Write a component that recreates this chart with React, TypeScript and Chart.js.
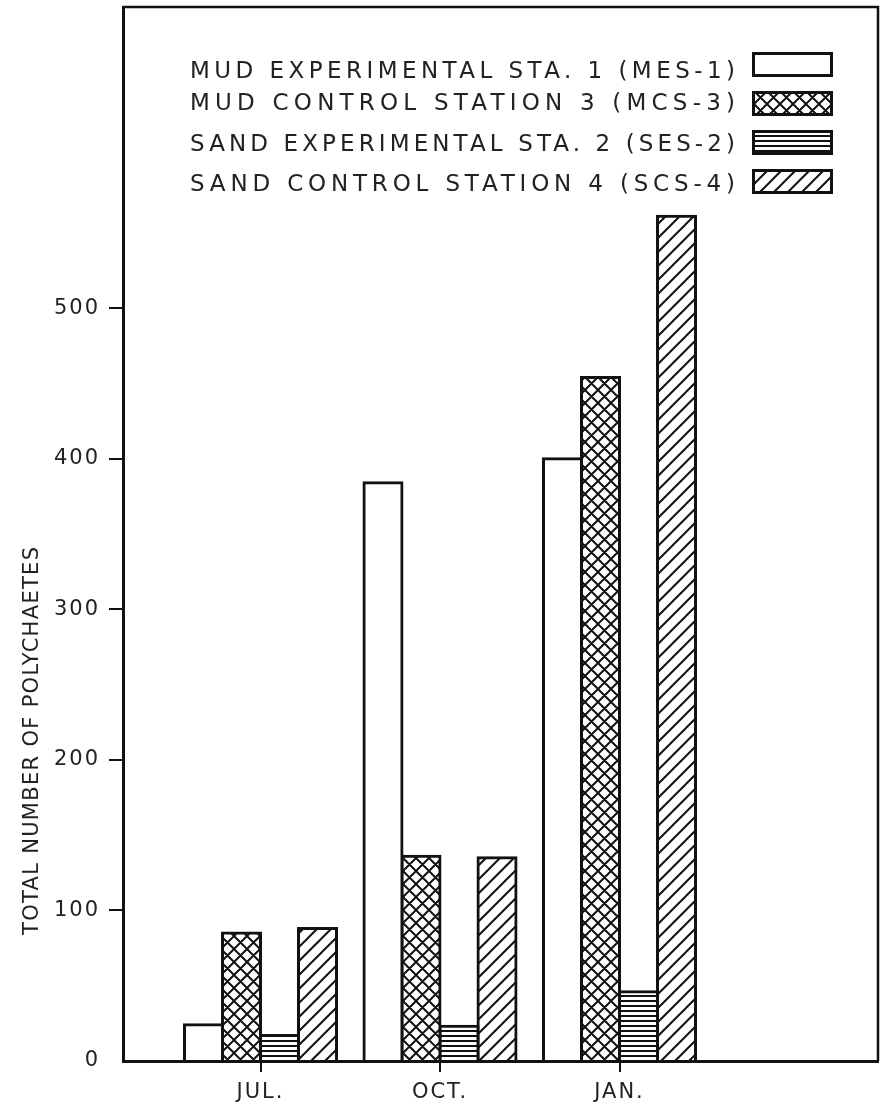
import React, { useEffect, useRef } from 'react';
import { Chart, registerables } from 'chart.js';

Chart.register(...registerables);

// ---- data ----
const MONTHS = ['JUL.', 'OCT.', 'JAN.'];
const MONTH_POS = [0, 1, 2];
const MES1 = [24, 384, 400];
const MCS3 = [85, 136, 454];
const SES2 = [17, 23, 46];
const SCS4 = [88, 135, 561];
const Y_TICKS = [0, 100, 200, 300, 400, 500];
const SERIES_LABELS = [
  'MUD EXPERIMENTAL STA. 1 (MES-1)',
  'MUD CONTROL STATION 3 (MCS-3)',
  'SAND EXPERIMENTAL STA. 2 (SES-2)',
  'SAND CONTROL STATION 4 (SCS-4)',
];
const Y_TITLE = 'TOTAL NUMBER OF POLYCHAETES';

const FONT = '"DejaVu Sans", sans-serif';
const INK = '#111';
const TEXT = '#222';

function makePattern(kind: string): CanvasPattern | string {
  if (kind === 'none') return '#ffffff';
  const c = document.createElement('canvas');
  const ctx = c.getContext('2d') as CanvasRenderingContext2D;
  if (kind === 'horiz') {
    c.width = 8; c.height = 5;
    ctx.fillStyle = '#fff'; ctx.fillRect(0, 0, 8, 5);
    ctx.fillStyle = INK; ctx.fillRect(0, 0, 8, 2);
  } else {
    const s = kind === 'cross' ? 13 : 14;
    c.width = s; c.height = s;
    ctx.fillStyle = '#fff'; ctx.fillRect(0, 0, s, s);
    ctx.strokeStyle = INK; ctx.lineWidth = 2;
    ctx.beginPath();
    ctx.moveTo(-2, s + 2); ctx.lineTo(s + 2, -2);
    ctx.moveTo(-2, 2); ctx.lineTo(2, -2);
    ctx.moveTo(s - 2, s + 2); ctx.lineTo(s + 2, s - 2);
    if (kind === 'cross') {
      ctx.moveTo(-2, -2); ctx.lineTo(s + 2, s + 2);
      ctx.moveTo(s - 2, -2); ctx.lineTo(s + 2, 2);
      ctx.moveTo(-2, s - 2); ctx.lineTo(2, s + 2);
    }
    ctx.stroke();
  }
  return ctx.createPattern(c, 'repeat') as CanvasPattern;
}

function fitText(ctx: any, text: string, x: number, y: number, width: number) {
  ctx.letterSpacing = '0px';
  const w = ctx.measureText(text).width;
  const sp = (width - w) / Math.max(1, text.length - 1);
  ctx.letterSpacing = sp + 'px';
  ctx.fillText(text, x, y);
  ctx.letterSpacing = '0px';
}

const framePlugin = {
  id: 'figureFrame',
  beforeDraw(chart: any) {
    chart.ctx.letterSpacing = '2px';
  },
  afterDraw(chart: any) {
    const ctx = chart.ctx;
    const a = chart.chartArea;
    ctx.save();
    ctx.letterSpacing = '0px';
    // frame top & right
    ctx.strokeStyle = INK;
    ctx.lineWidth = 2.5;
    ctx.beginPath();
    ctx.moveTo(a.left, a.top);
    ctx.lineTo(a.right, a.top);
    ctx.lineTo(a.right, a.bottom);
    ctx.stroke();

    // legend (text left, swatch right)
    const boxTops = [52, 91, 130, 169];
    const textMid = [70, 102, 143, 183];
    const size = 23;
    ctx.font = `${size}px ${FONT}`;
    ctx.fillStyle = TEXT;
    ctx.textAlign = 'left';
    ctx.textBaseline = 'alphabetic';
    chart.data.datasets.forEach((ds: any, i: number) => {
      fitText(ctx, ds.label, 190, textMid[i] + size * 0.729 / 2, 545);
      ctx.fillStyle = ds.backgroundColor;
      ctx.fillRect(752, boxTops[i], 81, 25);
      ctx.strokeStyle = INK;
      ctx.lineWidth = 3;
      ctx.strokeRect(753.5, boxTops[i] + 1.5, 78, 22);
      ctx.fillStyle = TEXT;
    });

    // y axis title
    const ts = 21;
    ctx.font = `${ts}px ${FONT}`;
    ctx.translate(30, 741);
    ctx.rotate(-Math.PI / 2);
    fitText(ctx, Y_TITLE, -194, ts * 0.729 / 2, 388);
    ctx.restore();
  },
};

export default function App() {
  const ref = useRef<HTMLCanvasElement>(null);
  useEffect(() => {
    const fills = [makePattern('none'), makePattern('cross'), makePattern('horiz'), makePattern('diag')];
    const series = [MES1, MCS3, SES2, SCS4];
    const chart = new Chart(ref.current as HTMLCanvasElement, {
      type: 'bar',
      data: {
        datasets: series.map((vals, k) => ({
          label: SERIES_LABELS[k],
          data: vals.map((v, i) => ({ x: MONTH_POS[i], y: v })),
          backgroundColor: fills[k] as any,
          borderColor: INK,
          borderWidth: 3,
          borderSkipped: 'start',
          inflateAmount: 1.5,
          categoryPercentage: 0.847,
          barPercentage: 1,
        })),
      },
      options: {
        animation: false,
        responsive: false,
        devicePixelRatio: 1,
        layout: { padding: { top: 7, right: 3, left: 0, bottom: 0 } },
        plugins: {
          legend: { display: false },
          tooltip: { enabled: false },
          title: { display: false },
        },
        scales: {
          x: {
            type: 'linear',
            min: -0.766,
            max: 3.44,
            offset: false,
            afterBuildTicks: (s: any) => { s.ticks = MONTH_POS.map((v) => ({ value: v })); },
            afterFit: (s: any) => { s.height = 45; s.paddingLeft = 0; s.paddingRight = 0; },
            grid: { offset: false, drawOnChartArea: false, drawTicks: true, tickLength: 11, lineWidth: 2, color: INK },
            border: { display: true, width: 3, color: INK, z: 1 },
            ticks: {
              font: { family: FONT, size: 21 },
              color: TEXT,
              padding: 8,
              maxRotation: 0,
              autoSkip: false,
              callback: (v: any) => { const i = MONTH_POS.indexOf(Number(v)); return i >= 0 ? MONTHS[i] : ''; },
            },
          },
          y: {
            type: 'linear',
            min: 0,
            max: 700,
            afterBuildTicks: (s: any) => { s.ticks = Y_TICKS.map((v) => ({ value: v })); },
            afterFit: (s: any) => { s.width = 123; s.paddingTop = 0; s.paddingBottom = 0; },
            grid: {
              drawOnChartArea: false,
              drawTicks: true,
              tickLength: 14,
              lineWidth: 2,
              color: (c: any) => (c.tick && c.tick.value === 0 ? 'rgba(0,0,0,0)' : INK),
            },
            border: { display: true, width: 3, color: INK, z: 1 },
            ticks: { font: { family: FONT, size: 21 }, color: TEXT, padding: 9 },
          },
        },
      } as any,
      plugins: [framePlugin],
    });
    return () => chart.destroy();
  }, []);
  return (
    <div style={{ position: 'absolute', left: 0, top: 0, width: 881, height: 1106, background: '#fff' }}>
      <canvas ref={ref} width={881} height={1106} style={{ display: 'block', width: 881, height: 1106 }} />
    </div>
  );
}
